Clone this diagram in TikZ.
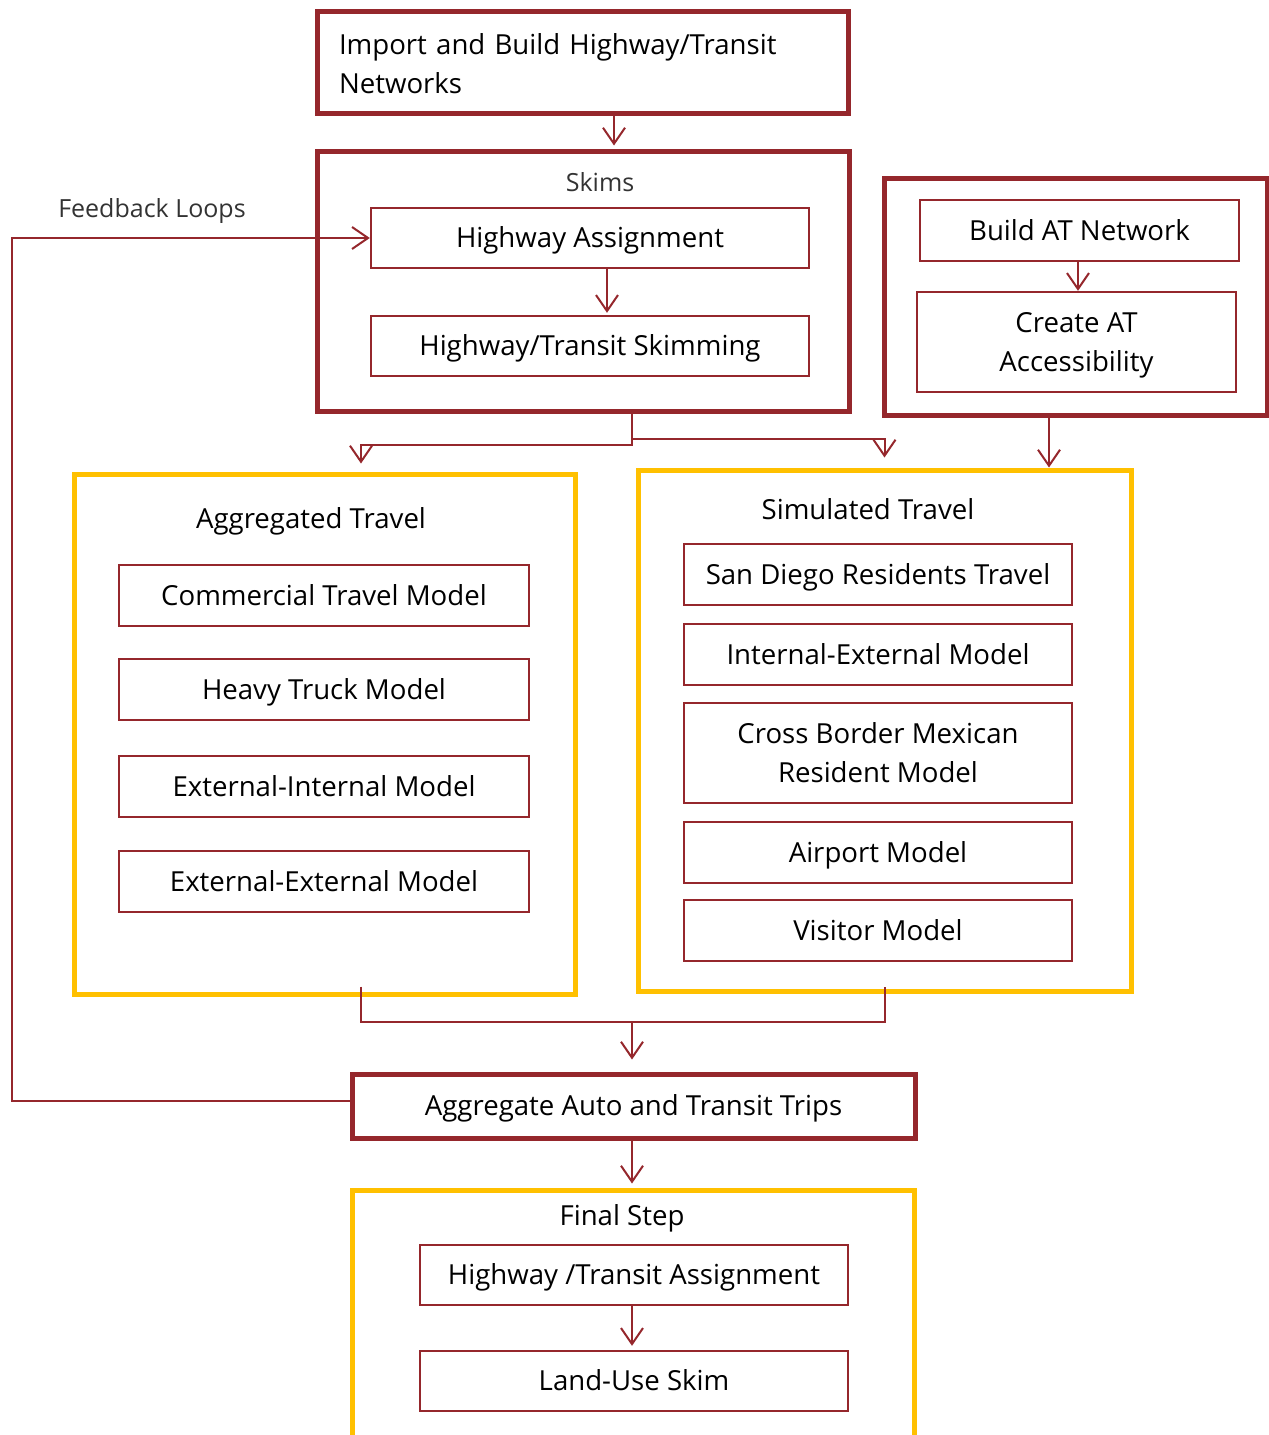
\documentclass[tikz,border=0pt]{standalone}
\usepackage{fontspec}
\setmainfont{Open Sans}
\usepackage{tikz}
\usetikzlibrary{arrows.meta}
\usetikzlibrary{calc}
\definecolor{wine}{RGB}{149,39,44}
\definecolor{amber}{RGB}{255,192,0}

\begin{document}
\begin{tikzpicture}[x=0.5pt,y=-0.5pt,
	every node/.style={font=\fontsize{13.8}{19.5}\selectfont, text=black, text height=12.5pt, text depth=3pt},
	outer/.style={draw=wine, line width=2.5pt, inner sep=0pt},
	group/.style={draw=amber, line width=2.5pt, inner sep=0pt},
	model/.style={draw=wine, line width=1.2pt, align=center, minimum height=30.5pt},
	tworow/.style={text height=31pt, text depth=1.5pt},
	title/.style={font=\fontsize{12.5}{18}\selectfont, text=black!80},
	link/.style={draw=wine, line width=1pt, -{Straight Barb[length=8pt,width=11pt]}},
	wire/.style={draw=wine, line width=1pt}]
\clip (0,0) rectangle (1269,1435);
\node[outer, minimum width=265.5pt, minimum height=51pt, align=left, text width=243.5pt, text height=12pt, text depth=19.5pt] (imp) at (582.5,62) {Import and Build Highway/Transit\\Networks};
\node[outer, minimum width=266pt, minimum height=130pt] (skims) at (583,281) {};
\node[title] (skimslbl) at (600,182) {Skims};
\node[model, minimum width=219pt, minimum height=30pt] (hwa) at (590,238) {Highway Assignment};
\node[model, minimum width=219pt, minimum height=30pt] (skm) at (590,346) {Highway/Transit Skimming};
\node[outer, minimum width=191.5pt, minimum height=118.5pt] (at) at (1075.5,296.5) {};
\node[model, minimum width=159.5pt] (bat) at (1079.5,230.5) {Build AT Network};
\node[model, tworow, minimum width=159.5pt, minimum height=50pt] (cat) at (1076.5,342) {Create AT\\Accessibility};
\node[group, minimum width=250.5pt, minimum height=260pt] (agg) at (324.5,734) {};
\node (agglbl) at (311,519) {Aggregated Travel};
\node[model, minimum width=205pt] (com) at (324,595.5) {Commercial Travel Model};
\node[model, minimum width=205pt] (trk) at (324,689.5) {Heavy Truck Model};
\node[model, minimum width=205pt] (ei) at (324,786.5) {External-Internal Model};
\node[model, minimum width=205pt] (ee) at (324,881.5) {External-External Model};
\node[group, minimum width=246.5pt, minimum height=260.5pt] (sim) at (884.5,730.5) {};
\node (simlbl) at (868,510) {Simulated Travel};
\node[model, minimum width=194pt] (sdr) at (878,574.5) {San Diego Residents Travel};
\node[model, minimum width=194pt] (ie) at (878,654.5) {Internal-External Model};
\node[model, tworow, minimum width=194pt, minimum height=50pt] (xbm) at (878,753) {Cross Border Mexican\\Resident Model};
\node[model, minimum width=194pt] (air) at (878,852.5) {Airport Model};
\node[model, minimum width=194pt] (vis) at (878,930.5) {Visitor Model};
\node[outer, minimum width=281.5pt, minimum height=32pt] (aat) at (633.5,1106) {Aggregate Auto and Transit Trips};
\node[group, minimum width=281pt, minimum height=145pt] (fin) at (633,1335) {};
\node (finlbl) at (622,1216) {Final Step};
\node[model, minimum width=214pt, minimum height=30pt] (hta) at (634,1275) {Highway /Transit Assignment};
\node[model, minimum width=214pt, minimum height=30pt] (lus) at (634,1381) {Land-Use Skim};
\node[title] (fblbl) at (152,208) {Feedback Loops};
\coordinate (split) at ([xshift=24.5pt]skims.south);
\coordinate (join) at (632,1022);
\draw[link, shorten >=1.5pt] ([xshift=15.75pt]imp.south) -- ([xshift=15.5pt]skims.north);
\draw[link, shorten >=1pt] ([xshift=8.5pt]hwa.south) -- ([xshift=8.5pt]skm.north);
\draw[link] ([xshift=-0.75pt]bat.south) -- ([xshift=0.75pt]cat.north);
\draw[link] ([xshift=-13.25pt]at.south) -- ([xshift=82.25pt]sim.north);
\draw[link, shorten >=4pt] (split) -- ++(0,31) -| ([xshift=18.25pt]agg.north);
\draw[link, shorten >=5pt] (split) ++(0,25) -| (sim.north);
\draw[wire] ([xshift=18.25pt,yshift=5pt]agg.south) |- (join) -| ([yshift=3.5pt]sim.south);
\draw[link, shorten >=6pt] (join) -- (join |- aat.north);
\draw[link, shorten >=2pt] ([xshift=-0.75pt]aat.south) -- ([xshift=-0.5pt]fin.north);
\draw[link, shorten >=2pt] ([xshift=-1pt]hta.south) -- ([xshift=-1pt]lus.north);
\draw[link] ([yshift=2.5pt]aat.west) -- ++(-338,0) |- (hwa.west);
\end{tikzpicture}
\end{document}
